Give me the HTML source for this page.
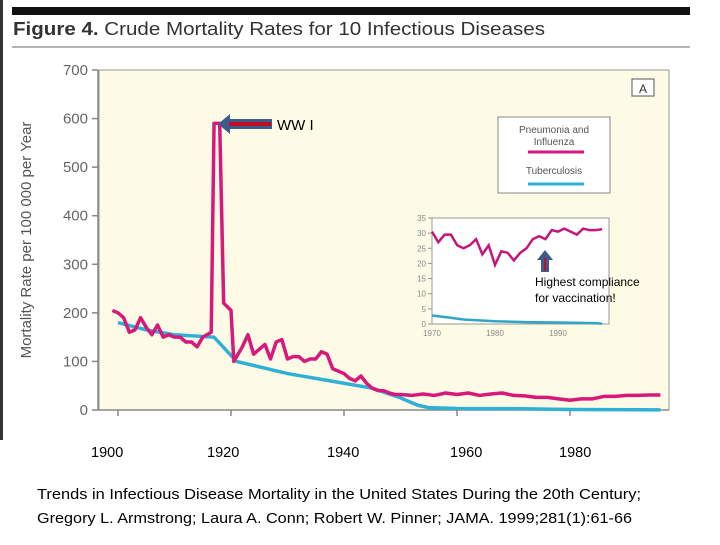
<!DOCTYPE html>
<html><head><meta charset="utf-8"><style>
body{margin:0;width:720px;height:540px;background:#fff;overflow:hidden;font-family:"Liberation Sans",sans-serif}
</style></head><body>
<svg width="720" height="540" xmlns="http://www.w3.org/2000/svg">
<rect x="0" y="0" width="3" height="440" fill="#333"/>
<rect x="12" y="7" width="678" height="8" fill="#111"/>
<text x="13" y="35" font-size="18" fill="#333" textLength="532" lengthAdjust="spacingAndGlyphs"><tspan font-weight="bold">Figure 4.</tspan> Crude Mortality Rates for 10 Infectious Diseases</text>
<line x1="12" y1="47" x2="690" y2="47" stroke="#888" stroke-width="1.2"/>
<rect x="99" y="70" width="570" height="340" fill="#fdfbe5" stroke="#999" stroke-width="1"/>
<line x1="98" y1="70" x2="98" y2="410" stroke="#888" stroke-width="1.5"/>
<line x1="98" y1="410" x2="669" y2="410" stroke="#888" stroke-width="1.5"/>
<g id="yticks"></g>
<g id="xticks"></g>
<text transform="translate(31,240) rotate(-90)" text-anchor="middle" font-size="15" fill="#555">Mortality Rate per 100 000 per Year</text>
<g id="series"></g>
<rect x="632" y="79" width="22" height="17" fill="#fff" stroke="#555"/>
<text x="643" y="93" text-anchor="middle" font-size="12" fill="#333">A</text>
<g>
<rect x="498" y="117" width="112" height="76" fill="#fff" stroke="#888"/>
<text x="554" y="133" text-anchor="middle" font-size="10" fill="#555">Pneumonia and</text>
<text x="554" y="145" text-anchor="middle" font-size="10" fill="#555">Influenza</text>
<line x1="528" y1="152" x2="584" y2="152" stroke="#d6197a" stroke-width="3"/>
<text x="554" y="174" text-anchor="middle" font-size="10" fill="#555">Tuberculosis</text>
<line x1="528" y1="184" x2="584" y2="184" stroke="#2fb0d6" stroke-width="3"/>
</g>
<rect x="432" y="218" width="177" height="106" fill="#fff" stroke="#999"/>
<g id="inset"></g>
<g>
<polygon points="218,124 230,114 230,119 272,119 272,129 230,129 230,134" fill="#3c5a8c"/>
<rect x="229" y="122" width="42" height="4" fill="#c01020"/>
</g>
<text x="277" y="130" font-size="15" fill="#000">WW I</text>
<g>
<polygon points="545,250 537,260 541,260 541,272 549,272 549,260 553,260" fill="#3c5a8c"/>
<rect x="544" y="258" width="2" height="13" fill="#c01020"/>
</g>
<text x="535" y="286" font-size="12" fill="#000">Highest compliance</text>
<text x="535" y="302" font-size="12" fill="#000">for vaccination!</text>
<g font-size="14.5" fill="#000">
<text x="91" y="457">1900</text><text x="207" y="457">1920</text><text x="327" y="457">1940</text><text x="450" y="457">1960</text><text x="559" y="457">1980</text>
</g>
<text x="37" y="499" font-size="15" fill="#000" textLength="604" lengthAdjust="spacingAndGlyphs">Trends in Infectious Disease Mortality in the United States During the 20th Century;</text>
<text x="37" y="523" font-size="15" fill="#000" textLength="595" lengthAdjust="spacingAndGlyphs">Gregory L. Armstrong; Laura A. Conn; Robert W. Pinner; JAMA. 1999;281(1):61-66</text>
</svg>
<script>
const yTicks=[0,100,200,300,400,500,600,700];
const xTicks=[1900,1920,1940,1960,1980];
const pnYears=[1899,1900,1901,1902,1903,1904,1905,1906,1907,1908,1909,1910,1911,1912,1913,1914,1915,1916.5,1917,1918,1918.7,1920,1920.5,1922,1923,1924,1925,1926,1927,1928,1929,1930,1931,1932,1933,1934,1935,1936,1937,1938,1939,1940,1941,1942,1943,1944,1945,1946,1947,1948,1949,1950,1952,1954,1956,1958,1960,1962,1964,1966,1968,1970,1972,1974,1976,1978,1980,1982,1984,1986,1988,1990,1992,1994,1996];
const pnValues=[205,200,190,160,165,190,170,155,175,150,155,150,150,140,140,130,150,160,590,590,220,205,100,130,155,115,125,135,105,140,145,105,110,110,100,105,105,120,115,85,80,75,65,60,70,55,45,40,40,35,32,32,30,33,30,35,32,35,30,33,35,30,29,26,26,23,20,23,23,28,28,30,30,31,31];
const tbYears=[1900,1905,1910,1917,1921,1930,1940,1945,1950,1953,1955,1960,1970,1980,1996];
const tbValues=[180,165,155,150,100,75,55,45,25,10,5,3,2.8,1,0.3];
const inYears=[1970,1971,1972,1973,1974,1975,1976,1977,1978,1979,1980,1981,1982,1983,1984,1985,1986,1987,1988,1989,1990,1991,1992,1993,1994,1995,1996,1997];
const inPn=[30.5,27,29.5,29.5,26,25,26,28,23,26,19.5,24,23.5,21,23.5,25,28,29,28,31,30.5,31.5,30.5,29.5,31.5,31,31,31.3];
const inTbYears=[1970,1972,1975,1980,1985,1990,1996,1997];
const inTb=[2.8,2.3,1.5,0.9,0.6,0.5,0.3,0.1];
const inYTicks=[0,5,10,15,20,25,30,35];
const inXTicks=[1970,1980,1990];
const NS='http://www.w3.org/2000/svg';
const X=y=>118+(y-1900)*113/20;
const Y=v=>410-v*340/700;
const IX=y=>432+(y-1970)*6.3;
const IY=v=>324-v*106/35;
function el(t,a,p){const e=document.createElementNS(NS,t);for(const k in a)e.setAttribute(k,a[k]);p.appendChild(e);return e;}
const yt=document.getElementById('yticks');
yTicks.forEach(v=>{
 const l=el('line',{x1:92,x2:98,y1:Y(v),y2:Y(v),stroke:'#888','stroke-width':1.5},yt);
 
 
 const t=el('text',{x:88,y:Y(v)+5,'text-anchor':'end','font-size':15,fill:'#666'},yt);
 t.textContent=v;
 
 
});
const xt=document.getElementById('xticks');
xTicks.forEach(v=>{
 const l=el('line',{x1:X(v),x2:X(v),y1:410,y2:416,stroke:'#888','stroke-width':1.5},xt);
 
 
});
const s=document.getElementById('series');
const tb=el('polyline',{points:tbYears.map((y,i)=>X(y)+','+Y(tbValues[i])).join(' '),fill:'none',stroke:'#2fb0d6','stroke-width':3.5},s);


const pn=el('polyline',{points:pnYears.map((y,i)=>X(y)+','+Y(pnValues[i])).join(' '),fill:'none',stroke:'#d6197a','stroke-width':3.5,'stroke-linejoin':'round'},s);


const ins=document.getElementById('inset');
inYTicks.forEach(v=>{
 const l=el('line',{x1:428,x2:432,y1:IY(v),y2:IY(v),stroke:'#999'},ins);
 
 
 const t=el('text',{x:426,y:IY(v)+3,'text-anchor':'end','font-size':8,fill:'#888'},ins);
 t.textContent=v;
 
 
});
inXTicks.forEach(v=>{
 const t=el('text',{x:IX(v),y:336,'text-anchor':'middle','font-size':8,fill:'#888'},ins);
 t.textContent=v;
 
 
});
const itb=el('polyline',{points:inTbYears.map((y,i)=>IX(y)+','+IY(inTb[i])).join(' '),fill:'none',stroke:'#2fa6c8','stroke-width':2.5},ins);


const ipn=el('polyline',{points:inYears.map((y,i)=>IX(y)+','+IY(inPn[i])).join(' '),fill:'none',stroke:'#c4177a','stroke-width':2.5},ins);


</script>
</body></html>
